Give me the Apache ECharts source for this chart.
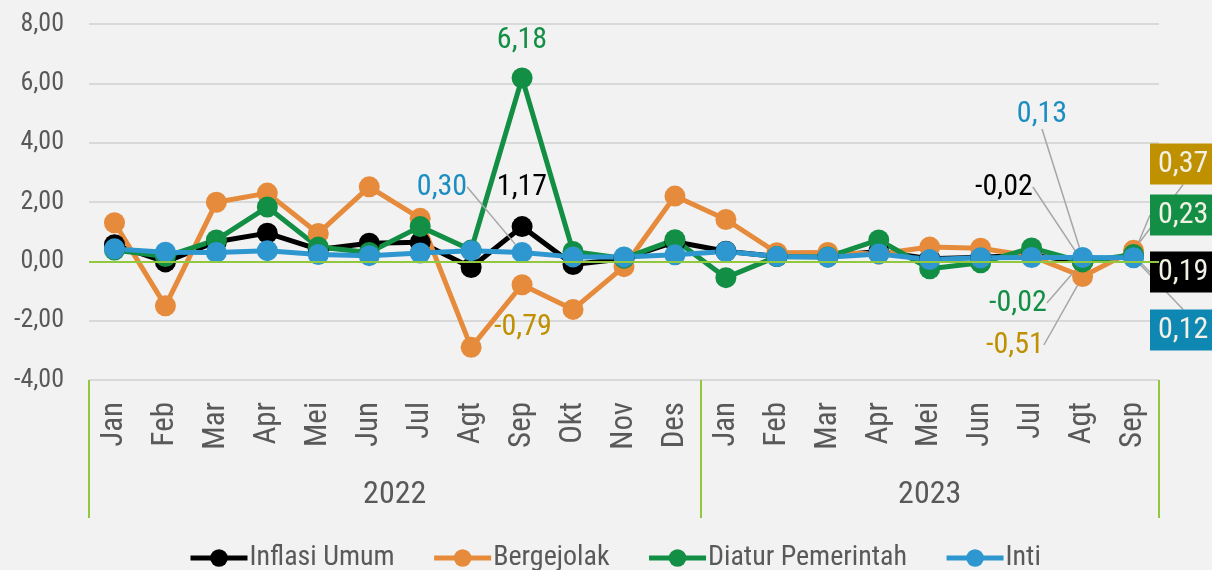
<!DOCTYPE html>
<html><head><meta charset="utf-8">
<script src="https://cdn.jsdelivr.net/npm/echarts@6/dist/echarts.min.js"></script>
<style>html,body{margin:0;padding:0;background:#f2f2f2}#c{width:1212px;height:570px}</style>
</head><body><div id="c"></div>
<script>
// ---- data ----
const months = ['Jan','Feb','Mar','Apr','Mei','Jun','Jul','Agt','Sep','Okt','Nov','Des','Jan','Feb','Mar','Apr','Mei','Jun','Jul','Agt','Sep'];
const years = ['2022','2023'];
const yearSpan = [12, 9];
const yTicks = [-4, -2, 0, 2, 4, 6, 8];
const seriesNames = ['Inflasi Umum','Bergejolak','Diatur Pemerintah','Inti'];
const inflasiUmum = [0.56,-0.02,0.66,0.95,0.40,0.61,0.64,-0.21,1.17,-0.11,0.09,0.66,0.34,0.16,0.18,0.33,0.09,0.14,0.21,-0.02,0.19];
const bergejolak  = [1.30,-1.50,1.99,2.30,0.94,2.51,1.45,-2.90,-0.79,-1.62,-0.18,2.20,1.41,0.29,0.30,0.25,0.48,0.44,0.17,-0.51,0.37];
const diaturPemerintah = [0.38,0.16,0.72,1.83,0.48,0.30,1.17,0.38,6.18,0.33,0.10,0.73,-0.55,0.16,0.15,0.72,-0.25,-0.05,0.45,-0.02,0.23];
const inti = [0.42,0.31,0.30,0.36,0.23,0.19,0.28,0.36,0.30,0.15,0.15,0.22,0.33,0.16,0.14,0.25,0.06,0.12,0.13,0.13,0.12];

// ---- styling ----
const FONT = "'Roboto Condensed','Liberation Sans Narrow','DejaVu Sans Condensed',sans-serif";
const GRAY = '#595959';
const fmt = v => Number(v).toFixed(2).replace('.', ',');
const lineColors = ['#000000','#e58b3b','#138f45','#2e97cf'];
const textColors = ['#000000','#bf9000','#138f45','#1a8dc1'];
const boxColors  = ['#000000','#bf9000','#138f45','#0f87b3'];

// label placement (pixel layout, style only)
const labelSpecs = [
  {8:{x:522,y:187}, 19:{x:1004,y:187,line:true}, 20:{x:1150,y:272,box:true,line:true}},
  {8:{x:523,y:327}, 19:{x:1015,y:345,line:true}, 20:{x:1150,y:164,box:true,line:true}},
  {8:{x:522,y:40},  19:{x:1018,y:303,line:true}, 20:{x:1150,y:215,box:true,line:true}},
  {8:{x:442,y:187,line:true}, 19:{x:1042,y:114,line:true}, 20:{x:1150,y:330,box:true,line:true}}
];

const allValues = [inflasiUmum, bergejolak, diaturPemerintah, inti];

function makeSeries(k) {
  const spec = labelSpecs[k];
  const data = allValues[k].map((v, i) => {
    const s = spec[i];
    if (!s) return v;
    const label = {
      show: true, formatter: p => fmt(p.value), fontFamily: FONT, fontSize: 30,
      color: s.box ? '#f3f1e4' : textColors[k]
    };
    if (s.box) {
      label.backgroundColor = boxColors[k];
      label.padding = [6, 8, 5, 8];
    }
    return {value: v, label: label,
      labelLine: {show: !!s.line, lineStyle: {color: '#a6a6a6', width: 1.5}}};
  });
  const s = {
    name: seriesNames[k], type: 'line', data: data,
    symbol: 'circle', symbolSize: 21,
    lineStyle: {width: 5, color: lineColors[k]},
    itemStyle: {color: lineColors[k]},
    emphasis: {disabled: true},
    animation: false,
    labelLayout: function (p) {
      const sp = spec[p.dataIndex];
      if (!sp) return {};
      const a = sp.box ? 'left' : 'center';
      return {x: sp.x, y: sp.y, align: a, verticalAlign: 'middle'};
    }
  };
  if (k === 0) {
    s.markLine = {silent: true, symbol: 'none', label: {show: false},
      lineStyle: {color: '#92c83e', width: 2, type: 'solid'},
      data: [{yAxis: 0}], animation: false};
  }
  return s;
}

// year axis helpers
const yearBounds = [0];
yearSpan.forEach(n => yearBounds.push(yearBounds[yearBounds.length - 1] + n));
const yearCenters = years.map((y, i) => (yearBounds[i] + yearBounds[i + 1]) / 2);

const chart = echarts.init(document.getElementById('c'), null, {renderer: 'canvas'});
chart.setOption({
  backgroundColor: '#f2f2f2',
  animation: false,
  grid: {left: 89, right: 53, top: 24, bottom: 190, containLabel: false},
  xAxis: [
    {type: 'category', data: months, boundaryGap: true,
     axisLine: {show: false}, axisTick: {show: false}, splitLine: {show: false},
     axisLabel: {rotate: 90, margin: 22, fontFamily: FONT, fontSize: 31, color: GRAY, interval: 0}},
    {type: 'value', min: 0, max: yearBounds[yearBounds.length - 1], position: 'bottom',
     axisLine: {show: false}, splitLine: {show: false},
     axisTick: {show: true, customValues: yearBounds, length: 138, lineStyle: {color: '#92c83e', width: 2}},
     axisLabel: {show: true, customValues: yearCenters, margin: 99, fontFamily: FONT, fontSize: 32, color: GRAY,
       formatter: v => { const i = yearCenters.indexOf(v); return i >= 0 ? years[i] : ''; }}}
  ],
  yAxis: {type: 'value', min: yTicks[0], max: yTicks[yTicks.length - 1], interval: 2,
    axisLine: {show: false}, axisTick: {show: false},
    splitLine: {show: true, lineStyle: {color: '#d9d9d9', width: 2}},
    axisLabel: {margin: 25, fontFamily: FONT, fontSize: 26, color: GRAY, formatter: v => fmt(v)}},
  legend: {data: seriesNames, left: 188, top: 544, padding: 0, itemWidth: 57, itemHeight: 22, itemGap: 37,
    lineStyle: {width: 5},
    textStyle: {fontFamily: FONT, fontSize: 28, color: GRAY, padding: [0, 0, 0, -3]}},
  series: [0, 1, 2, 3].map(makeSeries)
});
</script></body></html>
